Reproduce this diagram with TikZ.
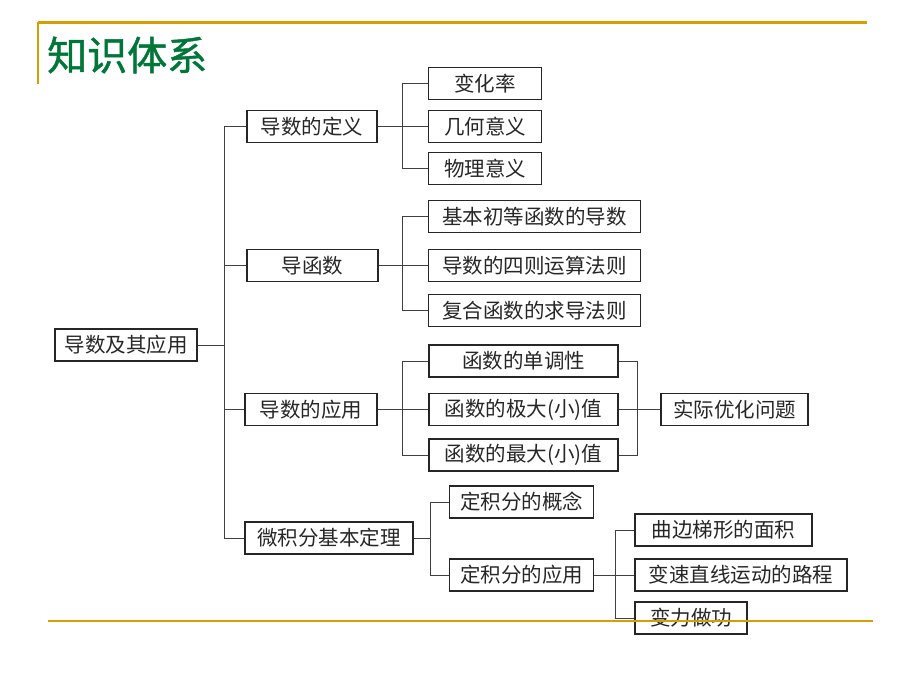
\documentclass[tikz,border=0pt]{standalone}
\usepackage{fontspec}
\newfontfamily\cjk{Noto Sans CJK SC}
\newfontfamily\cjktitle[FakeBold=1.2]{Noto Sans CJK SC}
\definecolor{gold}{RGB}{212,160,0}
\definecolor{tgreen}{RGB}{0,118,56}
\begin{document}
\begin{tikzpicture}[x=1pt,y=-1pt,
  bx/.style={draw=black!85, line width=1.3pt, inner sep=0pt, minimum height=32pt,
    font=\cjk\fontsize{20.5}{21}\selectfont, text=black!85},
  ln/.style={draw=black!75, line width=1pt},
  goldline/.style={draw=gold, line width=2.6pt}]
\useasboundingbox (0,0) rectangle (920,690);
% title
\node[anchor=west, inner sep=0pt, text=tgreen, font=\cjktitle\fontsize{40}{41}\selectfont] (title) at (47,55) {知识体系};
% boxes
\node[bx, minimum width=142pt] (root) at (126,345) {导数及其应用};
\node[bx, minimum width=130pt] (def) at (312,126.5) {导数的定义};
\node[bx, minimum width=131pt] (dhs) at (312.5,265.5) {导函数};
\node[bx, minimum width=132pt] (yyy) at (311,409.5) {导数的应用};
\node[bx, minimum width=168pt] (wjf) at (329,538) {微积分基本定理};
\node[bx, minimum width=113pt] (bhl) at (485,83.5) {变化率};
\node[bx, minimum width=113pt] (jh) at (485,126.5) {几何意义};
\node[bx, minimum width=113pt] (wl) at (485,168.5) {物理意义};
\node[bx, minimum width=212pt] (jb) at (534.5,216.5) {基本初等函数的导数};
\node[bx, minimum width=212pt] (sz) at (534.5,265.5) {导数的四则运算法则};
\node[bx, minimum width=212pt] (fh) at (534.5,310.5) {复合函数的求导法则};
\node[bx, minimum width=189pt] (dd) at (523.5,361) {函数的单调性};
\node[bx, minimum width=189pt] (jd) at (523.5,409.5) {函数的极大(小)值};
\node[bx, minimum width=189pt] (zd) at (523.5,455) {函数的最大(小)值};
\node[bx, minimum width=147pt] (sj) at (734.5,409.5) {实际优化问题};
\node[bx, minimum width=144pt] (gn) at (521.5,502) {定积分的概念};
\node[bx, minimum width=144pt] (yy2) at (521.5,575) {定积分的应用};
\node[bx, minimum width=177pt] (qb) at (723.5,530) {曲边梯形的面积};
\node[bx, minimum width=212pt] (bs) at (741,575) {变速直线运动的路程};
\node[bx, minimum width=112pt] (bl) at (691,618) {变力做功};
% junctions
\coordinate (t) at (224,345);
\coordinate (b1) at (402,126.5);
\coordinate (b2) at (402,265.5);
\coordinate (b3) at (402,409.5);
\coordinate (r3) at (637,409.5);
\coordinate (b4) at (430,538);
\coordinate (b5) at (615,575);
% connectors
\draw[ln] (root.east) -- (t);
\draw[ln] (def.west) -| (t);
\draw[ln] (t) |- (dhs.west);
\draw[ln] (t) |- (yyy.west);
\draw[ln] (t) |- (wjf.west);
\draw[ln] (def.east) -- (jh.west);
\draw[ln] (b1) |- (bhl.west);
\draw[ln] (b1) |- (wl.west);
\draw[ln] (dhs.east) -- (sz.west);
\draw[ln] (b2) |- (jb.west);
\draw[ln] (b2) |- (fh.west);
\draw[ln] (yyy.east) -- (jd.west);
\draw[ln] (b3) |- (dd.west);
\draw[ln] (b3) |- (zd.west);
\draw[ln] (dd.east) -| (r3);
\draw[ln] (r3) |- (zd.east);
\draw[ln] (jd.east) -- (sj.west);
\draw[ln] (wjf.east) -- (b4);
\draw[ln] (b4) |- (gn.west);
\draw[ln] (b4) |- (yy2.west);
\draw[ln] (yy2.east) -- (bs.west);
\draw[ln] (b5) |- (qb.west);
\draw[ln] (b5) |- (bl.west);
% gold frame lines
\coordinate (g1) at (38,22.5);
\coordinate (g2) at (867,22.5);
\coordinate (g3) at (38,84);
\coordinate (g4) at (48,621);
\coordinate (g5) at (873,621);
\draw[goldline] (g1) -- (g2);
\draw[draw=gold, line width=1.8pt] (g1) -- (g3);
\draw[goldline] (g4) -- (g5);
\end{tikzpicture}
\end{document}
